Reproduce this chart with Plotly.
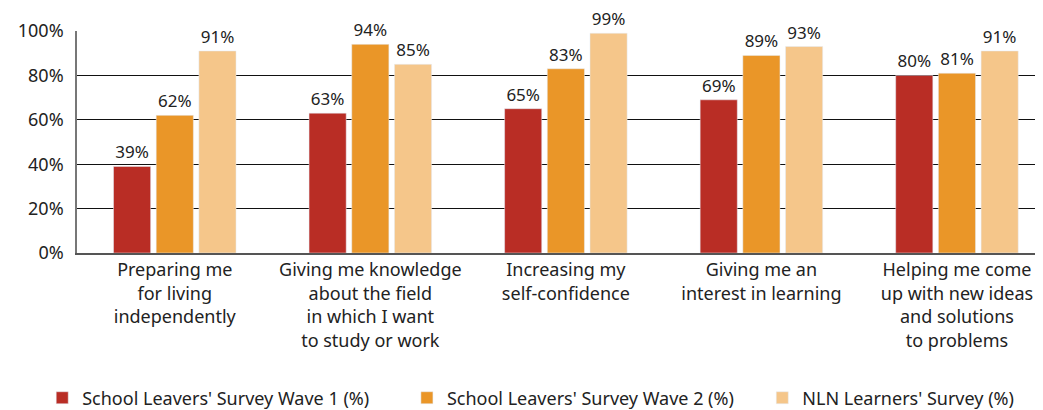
import plotly.graph_objects as go

categories = [
    "Preparing me<br>for living<br>independently",
    "Giving me knowledge<br>about the field<br>in which I want<br>to study or work",
    "Increasing my<br>self-confidence",
    "Giving me an<br>interest in learning",
    "Helping me come<br>up with new ideas<br>and solutions<br>to problems",
]
wave1 = [39, 63, 65, 69, 80]
wave2 = [62, 94, 83, 89, 81]
nln = [91, 85, 99, 93, 91]

series_names = [
    "School Leavers' Survey Wave 1 (%)",
    "School Leavers' Survey Wave 2 (%)",
    "NLN Learners' Survey (%)",
]
colors = ["#B92D25", "#EA9628", "#F5C68A"]
# extra spacing after each legend entry (non-breaking spaces)
pads = [7, 5, 0]

font_family = "Noto Sans, Open Sans, sans-serif"
text_color = "#222222"

fig = go.Figure()
for name, vals, col, p in zip(series_names, [wave1, wave2, nln], colors, pads):
    fig.add_trace(go.Bar(
        x=categories,
        y=vals,
        name=name + "\u00a0" * p,
        marker_color=col,
        text=[f"{v}%" for v in vals],
        textposition="outside",
        textfont=dict(size=17, color=text_color, family=font_family),
        cliponaxis=False,
    ))

# page body has an 8px margin, so the figure is a bit smaller and offset
fig.update_layout(
    barmode="group",
    bargap=0.345,
    bargroupgap=0.13,
    width=1035,
    height=402,
    margin=dict(l=69, r=0, t=23, b=157, autoexpand=False),
    plot_bgcolor="white",
    paper_bgcolor="white",
    font=dict(family=font_family, size=18, color=text_color),
    showlegend=True,
    legend=dict(
        orientation="h",
        x=-0.036,
        xanchor="left",
        y=-0.57,
        yanchor="top",
        font=dict(size=18, color=text_color),
        itemwidth=30,
        traceorder="normal",
    ),
)
fig.update_yaxes(
    range=[0, 100],
    tickvals=[0, 20, 40, 60, 80, 100],
    ticktext=["0%", "20%", "40%", "60%", "80%", "100%"],
    showgrid=True,
    gridcolor="#111111",
    gridwidth=1,
    showline=True,
    linecolor="#777777",
    linewidth=1.5,
    zeroline=False,
    ticks="",
    ticklabelstandoff=8,
    tickfont=dict(size=18),
)
fig.update_xaxes(
    range=[-0.5, 4.44],
    showline=True,
    linecolor="#555555",
    linewidth=1.5,
    ticks="",
    tickangle=0,
    tickfont=dict(size=18),
)

fig.write_html("out.html")
